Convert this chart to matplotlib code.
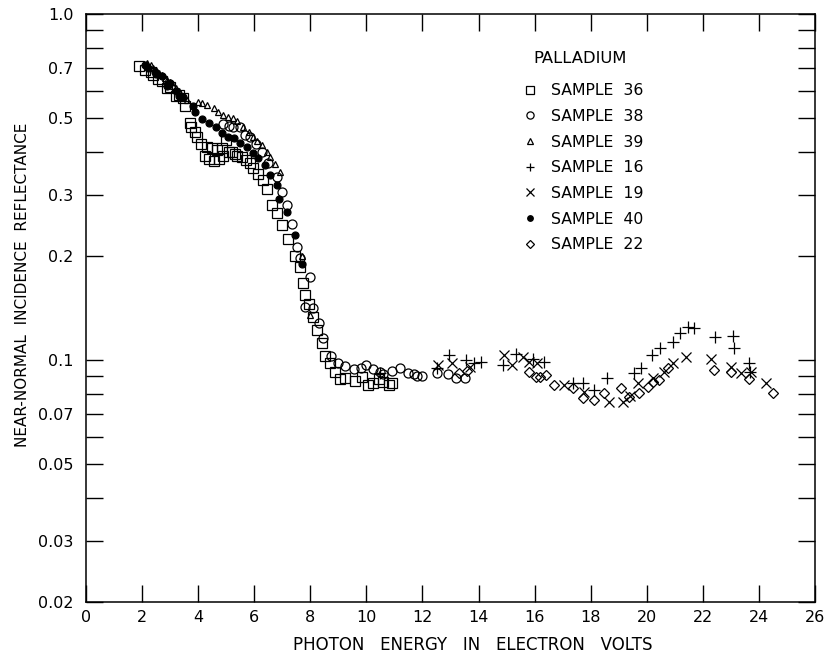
import numpy as np
import matplotlib
matplotlib.use("Agg")
import matplotlib.pyplot as plt
from matplotlib.ticker import FixedLocator, FuncFormatter, NullLocator

# --- data (photon energy eV, reflectance) ---
s36_x = [1.9, 2.1, 2.3, 2.4, 2.57, 2.7, 2.9, 3.0, 3.2, 3.3, 3.45, 3.54, 3.71, 3.75, 3.9,
         3.95, 4.1, 4.25, 4.3, 4.4, 4.5, 4.55, 4.67, 4.75, 4.85, 4.9, 5.0, 5.1, 5.2, 5.3,
         5.38, 5.55, 5.7, 5.85, 5.96, 6.15, 6.3, 6.46, 6.64, 6.82, 7.0, 7.2, 7.45, 7.64,
         7.75, 7.82, 7.95, 8.1, 8.25, 8.43, 8.54, 8.71, 8.89, 9.05, 9.25, 9.6, 9.86,
         10.05, 10.25, 10.45, 10.6, 10.8, 10.93]
s36_y = [0.707, 0.69, 0.68, 0.665, 0.649, 0.64, 0.61, 0.615, 0.58, 0.585, 0.57, 0.542,
         0.484, 0.47, 0.456, 0.44, 0.42, 0.39, 0.413, 0.38, 0.41, 0.375, 0.405, 0.38,
         0.41, 0.39, 0.433, 0.4, 0.4, 0.395, 0.39, 0.385, 0.379, 0.37, 0.359, 0.345,
         0.331, 0.312, 0.281, 0.266, 0.246, 0.224, 0.2, 0.186, 0.167, 0.154, 0.145, 0.133,
         0.122, 0.112, 0.103, 0.098, 0.0925, 0.088, 0.089, 0.087, 0.0895, 0.085, 0.086,
         0.088, 0.0865, 0.085, 0.086]

s38_x = [4.9, 5.1, 5.25, 5.5, 5.68, 5.86, 6.05, 6.29, 6.5, 6.82, 7.0, 7.18, 7.36, 7.54,
         7.64, 7.82, 8.0, 8.1, 8.3, 8.46, 8.75, 9.0, 9.25, 9.54, 9.8, 10.0, 10.25, 10.5,
         10.6, 10.9, 11.2, 11.5, 11.7, 11.8, 12.0, 12.5, 12.9, 13.2, 13.5]
s38_y = [0.48, 0.475, 0.471, 0.47, 0.447, 0.441, 0.42, 0.399, 0.371, 0.338, 0.306, 0.281,
         0.247, 0.212, 0.197, 0.142, 0.174, 0.141, 0.128, 0.116, 0.103, 0.098, 0.096,
         0.094, 0.095, 0.097, 0.094, 0.0925, 0.091, 0.093, 0.095, 0.092, 0.091, 0.09,
         0.09, 0.092, 0.091, 0.089, 0.089]

s39_x = [2.18, 2.3, 2.4, 2.5, 2.6, 2.7, 2.8, 2.9, 3.0, 3.1, 3.2, 3.3, 3.4, 3.6, 4.0, 4.15,
         4.32, 4.55, 4.7, 4.9, 5.05, 5.25, 5.4, 5.6, 5.8, 5.96, 6.1, 6.29, 6.45, 6.57,
         6.75, 6.93, 7.71, 8.0]
s39_y = [0.721, 0.71, 0.7, 0.69, 0.675, 0.665, 0.655, 0.645, 0.635, 0.62, 0.61, 0.598,
         0.585, 0.565, 0.557, 0.552, 0.546, 0.535, 0.52, 0.51, 0.505, 0.5, 0.49, 0.47,
         0.455, 0.441, 0.43, 0.418, 0.4, 0.386, 0.368, 0.349, 0.2, 0.135]

s16_x = [10.5, 12.5, 12.93, 13.54, 13.82, 14.07, 14.86, 15.32, 15.93, 16.32, 17.36, 17.71,
         18.1, 18.57, 19.54, 19.79, 20.18, 20.46, 20.93, 21.2, 21.46, 21.68, 22.43, 23.07,
         23.1, 23.64, 23.68]
s16_y = [0.092, 0.095, 0.1034, 0.100, 0.0979, 0.0986, 0.0967, 0.104, 0.101, 0.0986,
         0.0859, 0.0859, 0.082, 0.0887, 0.0917, 0.0947, 0.1034, 0.1086, 0.1125, 0.1195,
         0.1245, 0.1235, 0.1166, 0.117, 0.1086, 0.0979, 0.0925]

s19_x = [12.57, 13.07, 13.71, 14.89, 15.21, 15.57, 15.79, 16.1, 17.04, 17.75, 18.64,
         19.14, 19.4, 19.68, 20.21, 20.61, 20.93, 21.39, 22.29, 23.0, 23.36, 23.71, 24.25]
s19_y = [0.0967, 0.0979, 0.0954, 0.1034, 0.0967, 0.1018, 0.0986, 0.0979, 0.0846, 0.0809,
         0.0757, 0.0757, 0.079, 0.0859, 0.0887, 0.0925, 0.0979, 0.1018, 0.101, 0.0954,
         0.0917, 0.0925, 0.0859]

s40_x = [2.1, 2.2, 2.45, 2.5, 2.7, 2.9, 3.0, 3.2, 3.3, 3.45, 3.82, 3.9, 4.14, 4.4, 4.64,
         4.86, 5.07, 5.29, 5.5, 5.75, 5.96, 6.14, 6.39, 6.57, 6.82, 6.89, 7.18, 7.45, 7.7]
s40_y = [0.71, 0.7, 0.68, 0.67, 0.66, 0.62, 0.63, 0.6, 0.58, 0.575, 0.542, 0.521, 0.497,
         0.484, 0.471, 0.453, 0.441, 0.438, 0.424, 0.413, 0.397, 0.383, 0.366, 0.343,
         0.32, 0.292, 0.268, 0.23, 0.19]

s22_x = [13.3, 13.6, 15.79, 16.04, 16.2, 16.39, 16.68, 17.36, 17.71, 18.11, 18.46, 19.07,
         19.36, 19.71, 20.04, 20.21, 20.43, 20.75, 22.39, 23.0, 23.64, 24.5]
s22_y = [0.092, 0.093, 0.0925, 0.0894, 0.0894, 0.0906, 0.0846, 0.0831, 0.0775, 0.0769,
         0.0801, 0.0831, 0.0783, 0.0801, 0.0837, 0.0865, 0.0874, 0.0948, 0.0935, 0.0925,
         0.088, 0.0801]

y_ticks = [0.02, 0.03, 0.04, 0.05, 0.06, 0.07, 0.08, 0.09, 0.1, 0.2, 0.3, 0.4, 0.5, 0.6,
           0.7, 0.8, 0.9, 1.0]
y_labeled = {0.02: "0.02", 0.03: "0.03", 0.05: "0.05", 0.07: "0.07", 0.1: "0.1",
             0.2: "0.2", 0.3: "0.3", 0.5: "0.5", 0.7: "0.7", 1.0: "1.0"}
x_ticks = list(range(0, 27, 2))

plt.rcParams['font.family'] = ['DejaVu Sans']

fig = plt.figure(figsize=(8.24, 6.54), dpi=100)
ax = fig.add_axes([0.1044, 0.0795, 0.8847, 0.8991])

mk = dict(linestyle="none", color="black", markeredgewidth=0.9)
ax.plot(s36_x, s36_y, marker="s", ms=6.5, mfc="none", label="SAMPLE  36", **mk)
ax.plot(s38_x, s38_y, marker="o", ms=6.5, mfc="none", label="SAMPLE  38", **mk)
ax.plot(s39_x, s39_y, marker="^", ms=5, mfc="none", label="SAMPLE  39", **mk)
ax.plot(s16_x, s16_y, marker="+", ms=8, label="SAMPLE  16", **mk)
ax.plot(s19_x, s19_y, marker="x", ms=7, label="SAMPLE  19", **mk)
ax.plot(s40_x, s40_y, marker="o", ms=5, mfc="black", label="SAMPLE  40", **mk)
ax.plot(s22_x, s22_y, marker="D", ms=5, mfc="none", label="SAMPLE  22", **mk)

ax.set_yscale("log")
ax.set_xlim(0, 26)
ax.set_ylim(0.02, 1.0)

ax.yaxis.set_major_locator(FixedLocator(y_ticks))
ax.yaxis.set_minor_locator(NullLocator())
ax.yaxis.set_major_formatter(FuncFormatter(
    lambda v, p: next((t for k, t in y_labeled.items() if abs(k - v) < 1e-9), "")))
ax.set_xticks(x_ticks)
ax.set_xticklabels([str(t) for t in x_ticks])

ax.tick_params(axis="both", which="major", direction="in", length=12, width=1,
               top=True, right=True, labelsize=11.5)
ax.tick_params(axis="y", pad=9)
ax.tick_params(axis="x", pad=6)
for sp in ax.spines.values():
    sp.set_linewidth(1.1)

ax.set_xlabel("PHOTON   ENERGY   IN   ELECTRON   VOLTS", fontsize=12)
ax.xaxis.set_label_coords(0.531, -0.057)
ax.set_ylabel("NEAR-NORMAL  INCIDENCE  REFLECTANCE", fontsize=11)
ax.yaxis.set_label_coords(-0.077, 0.54)

ax.text(0.678, 0.925, "PALLADIUM", transform=ax.transAxes, ha="center", va="center",
        fontsize=11.8)
ax.legend(loc="upper left", bbox_to_anchor=(0.589, 0.893), frameon=False,
          fontsize=11.3, handlelength=1.0, handletextpad=0.9, labelspacing=0.68,
          markerscale=0.8, borderaxespad=0)

fig.savefig("out.png", dpi=100)
